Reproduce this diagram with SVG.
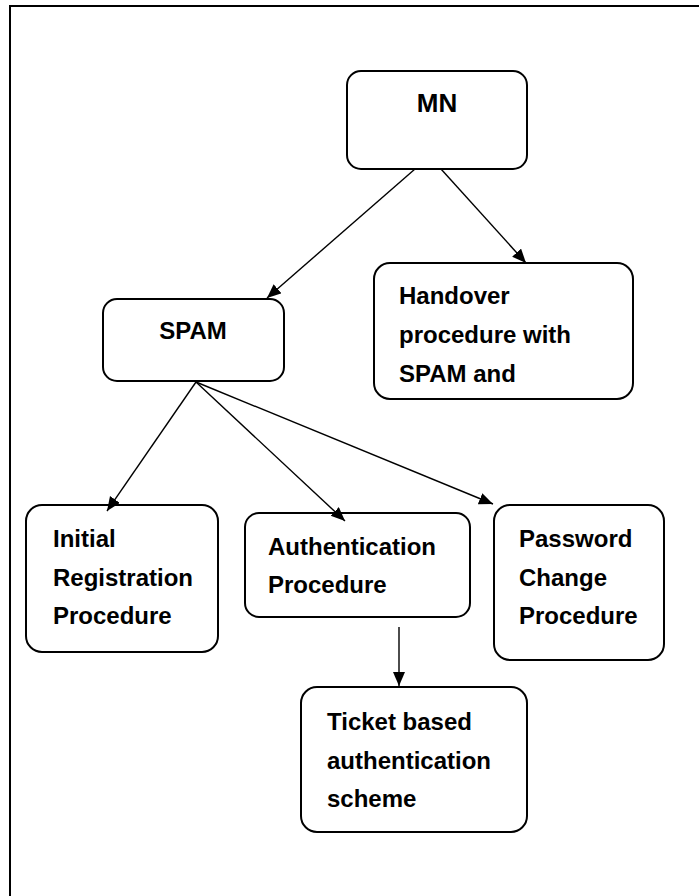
<svg xmlns="http://www.w3.org/2000/svg" width="699" height="896" viewBox="0 0 699 896">
<style>
.box{fill:#fff;stroke:#000;stroke-width:2}
.t{font-family:"Liberation Sans",Arial,sans-serif;font-weight:bold;font-size:24px;fill:#000}
.c{stroke:#000;stroke-width:1.4;fill:none;marker-end:url(#ah)}
</style>
<defs>
<marker id="ah" markerUnits="userSpaceOnUse" markerWidth="16" markerHeight="14" refX="14" refY="6" orient="auto">
<path d="M0,0 L14,6 L0,12 Z" fill="#000"/>
</marker>
</defs>
<rect x="10" y="6" width="720" height="920" fill="none" stroke="#000" stroke-width="2"/>
<g id="mn">
<rect class="box" x="347" y="71" width="180" height="98" rx="14"/>
<text class="t" x="437" y="112" text-anchor="middle" style="font-size:26px">MN</text>
</g>
<g id="spam">
<rect class="box" x="103" y="299" width="181" height="82" rx="14"/>
<text class="t" x="193" y="339" text-anchor="middle">SPAM</text>
</g>
<g id="handover">
<rect class="box" x="374" y="263" width="259" height="136" rx="16"/>
<text class="t" x="399" y="304">Handover</text>
<text class="t" x="399" y="343">procedure with</text>
<text class="t" x="399" y="382">SPAM and</text>
</g>
<g id="initial">
<rect class="box" x="26" y="505" width="192" height="147" rx="16"/>
<text class="t" x="53" y="547">Initial</text>
<text class="t" x="53" y="586">Registration</text>
<text class="t" x="53" y="624">Procedure</text>
</g>
<g id="auth">
<rect class="box" x="245" y="513" width="225" height="104" rx="14"/>
<text class="t" x="268" y="555">Authentication</text>
<text class="t" x="268" y="593">Procedure</text>
</g>
<g id="password">
<rect class="box" x="494" y="505" width="170" height="155" rx="16"/>
<text class="t" x="519" y="547">Password</text>
<text class="t" x="519" y="586">Change</text>
<text class="t" x="519" y="624">Procedure</text>
</g>
<g id="ticket">
<rect class="box" x="301" y="687" width="226" height="145" rx="16"/>
<text class="t" x="327" y="730">Ticket based</text>
<text class="t" x="327" y="769">authentication</text>
<text class="t" x="327" y="807">scheme</text>
</g>
<g id="connectors">
<line class="c" x1="415" y1="169" x2="267" y2="298"/>
<line class="c" x1="441" y1="169" x2="526" y2="263"/>
<line class="c" x1="196" y1="382" x2="107" y2="511"/>
<line class="c" x1="196" y1="382" x2="345" y2="521"/>
<line class="c" x1="196" y1="382" x2="493" y2="504"/>
<line class="c" x1="399" y1="627" x2="399" y2="686"/>
</g>
</svg>
